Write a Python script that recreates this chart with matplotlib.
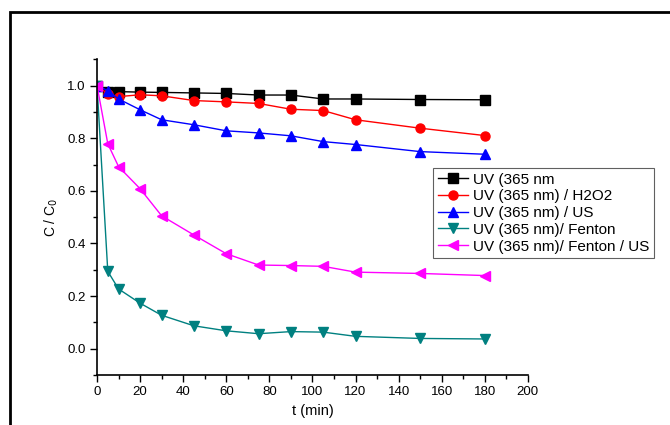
import matplotlib
matplotlib.use("Agg")
import matplotlib.pyplot as plt
from matplotlib.patches import Rectangle
from matplotlib.ticker import MultipleLocator

plt.rcParams['font.family'] = ['Liberation Sans', 'DejaVu Sans']

# irradiation time (min)
t = [0, 5, 10, 20, 30, 45, 60, 75, 90, 105, 120, 150, 180]

uv = [1.0, 0.975, 0.977, 0.975, 0.974, 0.972, 0.970, 0.964, 0.964, 0.949, 0.949, 0.947, 0.946]
uv_h2o2 = [1.0, 0.968, 0.958, 0.965, 0.961, 0.943, 0.938, 0.932, 0.910, 0.905, 0.870, 0.838, 0.810]
uv_us = [1.0, 0.981, 0.949, 0.908, 0.870, 0.851, 0.828, 0.820, 0.809, 0.787, 0.776, 0.749, 0.739]
uv_fenton = [1.0, 0.294, 0.227, 0.173, 0.127, 0.087, 0.068, 0.057, 0.065, 0.063, 0.047, 0.039, 0.037]
uv_fenton_us = [1.0, 0.779, 0.692, 0.608, 0.505, 0.432, 0.361, 0.318, 0.316, 0.313, 0.291, 0.286, 0.278]

labels = ["UV (365 nm", "UV (365 nm) / H2O2", "UV (365 nm) / US",
          "UV (365 nm)/ Fenton", "UV (365 nm)/ Fenton / US"]

fig = plt.figure(figsize=(6.7, 4.25), dpi=100)
ax = fig.add_axes([0.1448, 0.1176, 0.643, 0.743])

series = [uv, uv_h2o2, uv_us, uv_fenton, uv_fenton_us]
colors = ["black", "red", "blue", "#008080", "#ff00ff"]
markers = ["s", "o", "^", "v", "<"]
for y, c, m, lab in zip(series, colors, markers, labels):
    ax.plot(t, y, color=c, marker=m, markersize=6.5, linewidth=1, label=lab)

ax.set_xlim(0, 200)
ax.set_ylim(-0.1, 1.1)
ax.xaxis.set_major_locator(MultipleLocator(20))
ax.xaxis.set_minor_locator(MultipleLocator(10))
ax.yaxis.set_major_locator(MultipleLocator(0.2))
ax.yaxis.set_minor_locator(MultipleLocator(0.1))
ax.yaxis.set_major_formatter(matplotlib.ticker.FormatStrFormatter('%.1f'))
ax.spines['top'].set_visible(False)
ax.spines['right'].set_visible(False)
for s in ['left', 'bottom']:
    ax.spines[s].set_linewidth(1.2)
ax.tick_params(which='major', direction='out', length=5, width=1, labelsize=9.5, pad=3)
ax.tick_params(which='minor', direction='out', length=3, width=1)

ax.set_xlabel("t (min)", fontsize=10.5, labelpad=4)
ax.set_ylabel("C / C$_0$", fontsize=10, labelpad=5)

leg = ax.legend(loc='upper left', bbox_to_anchor=(433 / 670, 1 - 168 / 425),
                bbox_transform=fig.transFigure, borderaxespad=0, fontsize=11,
                fancybox=False, framealpha=1, edgecolor='#606060',
                handlelength=2.0, labelspacing=0.18, handletextpad=0.3,
                borderpad=0.3)
leg.get_frame().set_linewidth(0.8)

# outer frame of the figure
fig.add_artist(Rectangle((9.5 / 670, -0.1), 1.2, 1 - 12 / 425 + 0.1,
                         transform=fig.transFigure, fill=False,
                         edgecolor='black', linewidth=2))

fig.savefig("out.png", dpi=100)
